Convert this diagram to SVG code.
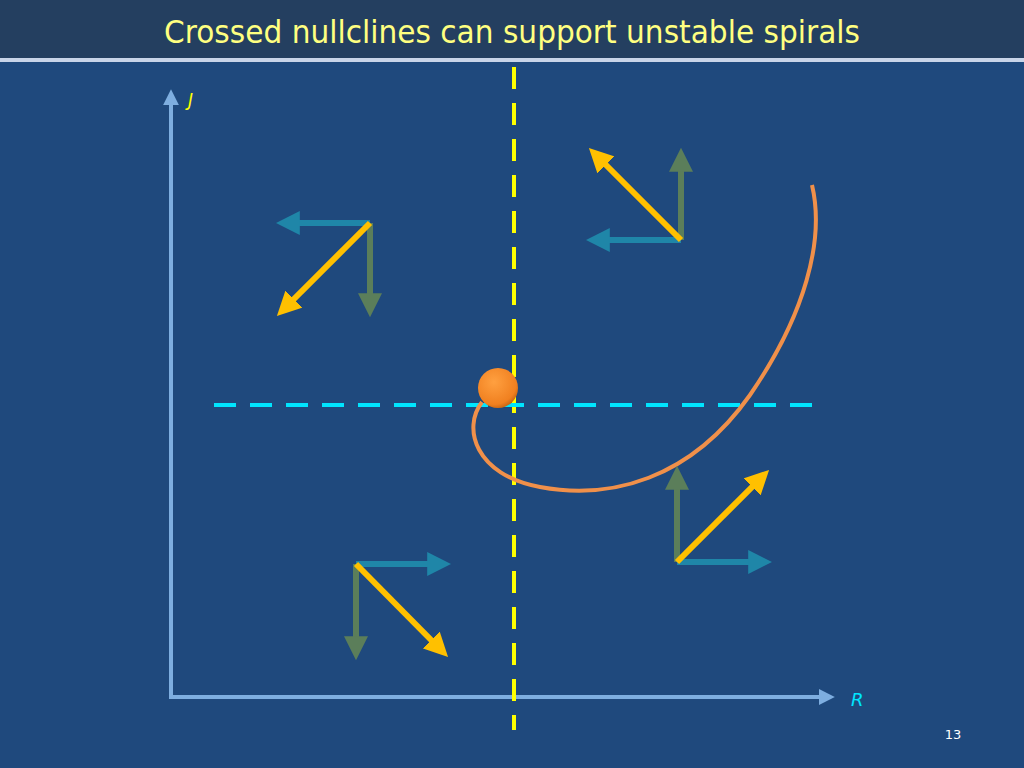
<svg xmlns="http://www.w3.org/2000/svg" width="1024" height="768" viewBox="0 0 1024 768">
<defs>
<marker id="hb" viewBox="0 0 10 10" refX="7" refY="5" markerWidth="4" markerHeight="4" orient="auto" markerUnits="strokeWidth"><path d="M0,0L10,5L0,10z" fill="#1f86a8"/></marker>
<marker id="hg" viewBox="0 0 10 10" refX="7" refY="5" markerWidth="4" markerHeight="4" orient="auto" markerUnits="strokeWidth"><path d="M0,0L10,5L0,10z" fill="#5b7e5a"/></marker>
<marker id="hy" viewBox="0 0 10 10" refX="7" refY="5" markerWidth="4" markerHeight="4" orient="auto" markerUnits="strokeWidth"><path d="M0,0L10,5L0,10z" fill="#ffc000"/></marker>
<marker id="ha" viewBox="0 0 10 10" refX="7" refY="5" markerWidth="4" markerHeight="4" orient="auto" markerUnits="strokeWidth"><path d="M0,0L10,5L0,10z" fill="#7eaee0"/></marker>
<radialGradient id="ball" cx="0.4" cy="0.35" r="0.7"><stop offset="0" stop-color="#ffa040"/><stop offset="0.8" stop-color="#f08020"/><stop offset="1" stop-color="#c06010"/></radialGradient>
</defs>
<style>
.b{stroke:#1f86a8;stroke-width:6;marker-end:url(#hb)}
.g{stroke:#5b7e5a;stroke-width:6;marker-end:url(#hg)}
.y{stroke:#ffc000;stroke-width:6;marker-end:url(#hy)}
.ax{stroke:#7eaee0;stroke-width:4;marker-end:url(#ha)}
text{font-family:Verdana,"DejaVu Sans",sans-serif}
</style>
<rect width="1024" height="768" fill="#1f497d"/>
<rect width="1024" height="58" fill="#243f60"/>
<rect y="58" width="1024" height="4" fill="#c8d4e8"/>
<text x="164" y="43" font-size="32" fill="#ffff80" textLength="696" lengthAdjust="spacingAndGlyphs">Crossed nullclines can support unstable spirals</text>
<g id="axes">
<line class="ax" x1="171" y1="697" x2="171" y2="94"/>
<line class="ax" x1="169" y1="697" x2="830" y2="697"/>
<text x="188" y="106" font-size="17" font-style="italic" fill="#ffff00">J</text>
<text x="851" y="706" font-size="18" font-style="italic" fill="#00e5ff">R</text>
<text x="953" y="739" font-size="13" text-anchor="middle" fill="#ffffff">13</text>
</g>
<g id="nullclines">
<line x1="514" y1="67" x2="514" y2="730" stroke="#ffff00" stroke-width="4" stroke-dasharray="22,14"/>
<line x1="214" y1="405" x2="812" y2="405" stroke="#00e5ff" stroke-width="4" stroke-dasharray="22,14"/>
<path d="M482,402 C462,428 475,475 540,487 C610,500 690,480 750,395 C805,315 825,240 812,185" fill="none" stroke="#f0904a" stroke-width="4"/>
</g>
<g id="fixedpoint"><circle cx="498" cy="388" r="20" fill="url(#ball)"/></g>
<g id="connectors">
<line class="b" x1="370" y1="223" x2="283" y2="223"/>
<line class="g" x1="370" y1="223" x2="370" y2="310"/>
<line class="y" x1="370" y1="223" x2="282" y2="311"/>
<line class="g" x1="681" y1="240" x2="681" y2="155"/>
<line class="b" x1="681" y1="240" x2="593" y2="240"/>
<line class="y" x1="681" y1="240" x2="594" y2="153"/>
<line class="b" x1="356" y1="564" x2="444" y2="564"/>
<line class="g" x1="356" y1="564" x2="356" y2="653"/>
<line class="y" x1="356" y1="564" x2="443" y2="652"/>
<line class="g" x1="677" y1="562" x2="677" y2="473"/>
<line class="b" x1="677" y1="562" x2="765" y2="562"/>
<line class="y" x1="677" y1="562" x2="764" y2="475"/>
</g>
</svg>
